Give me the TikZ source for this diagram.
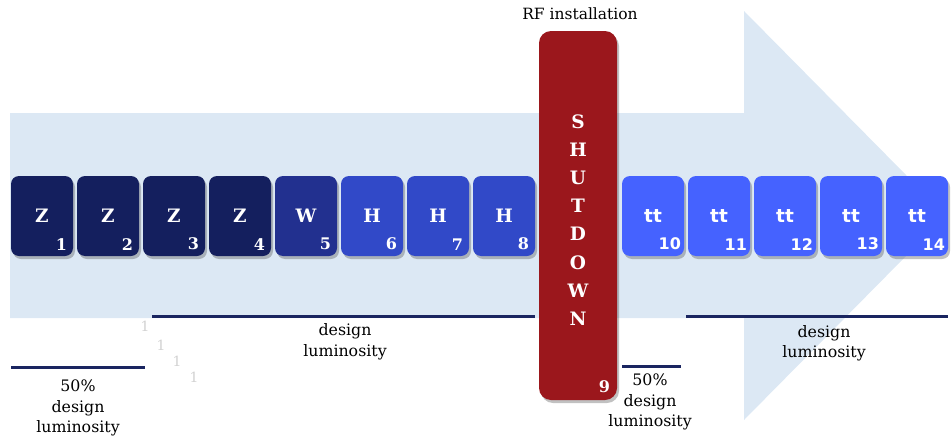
\documentclass[tikz,border=0pt]{standalone}
\usepackage{fontspec}
\setmainfont{DejaVu Serif}
\newfontfamily\boxsans{DejaVu Sans}
\usetikzlibrary{shadows}
\definecolor{shaftcol}{HTML}{DCE8F4}
\definecolor{zcol}{HTML}{141F5E}
\definecolor{wcol}{HTML}{22308F}
\definecolor{hcol}{HTML}{3149C8}
\definecolor{tcol}{HTML}{4562FF}
\definecolor{sdred}{HTML}{9B171C}
\definecolor{lumblue}{HTML}{1A2560}
\begin{document}
\begin{tikzpicture}[x=1pt,y=-1pt,
  stage/.style={rounded corners=8pt, minimum width=62pt, minimum height=80pt, inner sep=0pt,
    text=white, font=\bfseries\fontsize{18.5}{18.5}\selectfont,
    drop shadow={shadow xshift=2pt, shadow yshift=-3pt, opacity=0.35, fill=black!70}},
  num/.style={text=white, font=\bfseries\fontsize{16}{16}\selectfont, anchor=south east, inner sep=0pt},
  lum/.style={font=\fontsize{15.8}{20.5}\selectfont, align=center, text=black},
  lumline/.style={line width=3pt, draw=lumblue},
  faint/.style={text=black!18, font=\fontsize{14}{14}\selectfont, inner sep=0pt}]
\useasboundingbox (0,0) rectangle (951,439);
% big arrow
\fill[shaftcol] (10,113) -- (744,113) -- (744,11) -- (946,215.5) -- (744,420) -- (744,318) -- (10,318) -- cycle;
% stage boxes
\foreach \i/\x/\t/\c in {1/42/Z/zcol,2/108/Z/zcol,3/174/Z/zcol,4/240/Z/zcol,5/306/W/wcol,6/372/H/hcol,7/438/H/hcol,8/504/H/hcol}{
  \node[stage, fill=\c] (b\i) at (\x,216) {\t};
  \node[num] (n\i) at ([xshift=-6pt,yshift=6pt]b\i.south east) {\i};
}
\foreach \i/\x in {10/653,11/719,12/785,13/851,14/917}{
  \node[stage, fill=tcol, font=\boxsans\bfseries\fontsize{18.5}{18.5}\selectfont] (b\i) at (\x,216) {tt};
  \node[num, font=\boxsans\bfseries\fontsize{16}{16}\selectfont] (n\i) at ([xshift=-3pt,yshift=6pt]b\i.south east) {\i};
}
% shutdown
\node[stage, fill=sdred, minimum width=78pt, minimum height=369pt, rounded corners=12pt] (sd) at (578,215.5) {};
\node[text=white, align=center, font=\bfseries\fontsize{18.5}{28.2}\selectfont, inner sep=0pt] (sdtext) at (578,220) {S\\H\\U\\T\\D\\O\\W\\N};
\node[num] (n9) at ([xshift=-7pt,yshift=7pt]sd.south east) {9};
\node[font=\fontsize{15.5}{15.5}\selectfont, text=black] (rf) at (580,14) {RF installation};
% luminosity lines
\draw[lumline] (11,367) -- (145,367);
\draw[lumline] (152,316) -- (535,316);
\draw[lumline] (622,366) -- (681,366);
\draw[lumline] (686,316) -- (948,316);
% texts
\node[lum] (l1) at (78,408) {50\%\\design\\luminosity};
\node[lum] (l2) at (345,341.5) {design\\luminosity};
\node[lum] (l3) at (650,402) {50\%\\design\\luminosity};
\node[lum] (l4) at (824,343) {design\\luminosity};
% faint ones
\node[faint] (f1) at (145,326) {1};
\node[faint] (f2) at (161,345) {1};
\node[faint] (f3) at (177,361) {1};
\node[faint] (f4) at (194,377) {1};
\end{tikzpicture}
\end{document}
